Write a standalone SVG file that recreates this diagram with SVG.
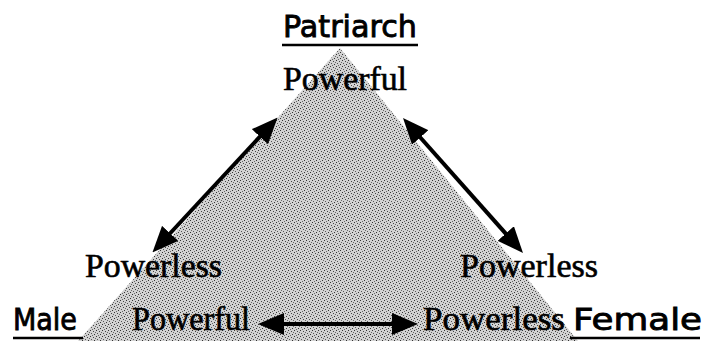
<svg xmlns="http://www.w3.org/2000/svg" width="709" height="341" viewBox="0 0 709 341">
<style>
.sans{font-family:"DejaVu Sans","Liberation Sans",sans-serif;font-size:31px;fill:#000;stroke:#000;stroke-width:0.9}
.serif{font-family:"Liberation Serif","Times New Roman",serif;font-size:33px;fill:#000;stroke:#000;stroke-width:0.6}
.ul{stroke:#000;stroke-width:2.5}
.conn{stroke:#000;stroke-width:4;fill:none;marker-start:url(#ah);marker-end:url(#ah)}
</style>
<defs>
<pattern id="stip" width="6" height="6" patternUnits="userSpaceOnUse">
<rect width="6" height="6" fill="#d2d2d2"/>
<rect x="0" y="0" width="1" height="1" fill="#333"/>
<rect x="3" y="1" width="1" height="1" fill="#444"/>
<rect x="1" y="3" width="1" height="1" fill="#555"/>
<rect x="4" y="4" width="1" height="1" fill="#333"/>
<rect x="5" y="2" width="1" height="1" fill="#666"/>
<rect x="2" y="5" width="1" height="1" fill="#666"/>
</pattern>
<marker id="ah" markerUnits="userSpaceOnUse" markerWidth="26" markerHeight="22" refX="20" refY="11" orient="auto-start-reverse">
<path d="M0,0 L26,11 L0,22 Z" fill="#000"/>
</marker>
</defs>
<rect width="709" height="341" fill="#fff"/>
<polygon id="triangle" points="340,48 78,341 578,341" fill="url(#stip)"/>
<g id="connectors">
<line class="conn" x1="273.5" y1="122" x2="156.5" y2="248"/>
<line class="conn" x1="407" y1="122.5" x2="519" y2="248.5"/>
<line class="conn" x1="264" y1="324" x2="412" y2="324"/>
</g>
<g id="patriarch">
<text class="sans" x="283" y="37" textLength="134" lengthAdjust="spacingAndGlyphs">Patriarch</text>
<line class="ul" x1="282" y1="45" x2="418" y2="45"/>
<text class="serif" x="283" y="90" textLength="124" lengthAdjust="spacingAndGlyphs">Powerful</text>
</g>
<g id="male">
<text class="sans" x="13" y="330" font-size="29" textLength="64" lengthAdjust="spacingAndGlyphs">Male</text>
<line class="ul" x1="13" y1="338" x2="83" y2="338"/>
<text class="serif" x="85" y="277" textLength="137" lengthAdjust="spacingAndGlyphs">Powerless</text>
<text class="serif" x="132" y="330" textLength="118" lengthAdjust="spacingAndGlyphs">Powerful</text>
</g>
<g id="female">
<text class="sans" x="573" y="330" font-size="29" textLength="129" lengthAdjust="spacingAndGlyphs">Female</text>
<line class="ul" x1="570" y1="338" x2="700" y2="338"/>
<text class="serif" x="460" y="277" textLength="138" lengthAdjust="spacingAndGlyphs">Powerless</text>
<text class="serif" x="423" y="330" textLength="142" lengthAdjust="spacingAndGlyphs">Powerless</text>
</g>
</svg>
